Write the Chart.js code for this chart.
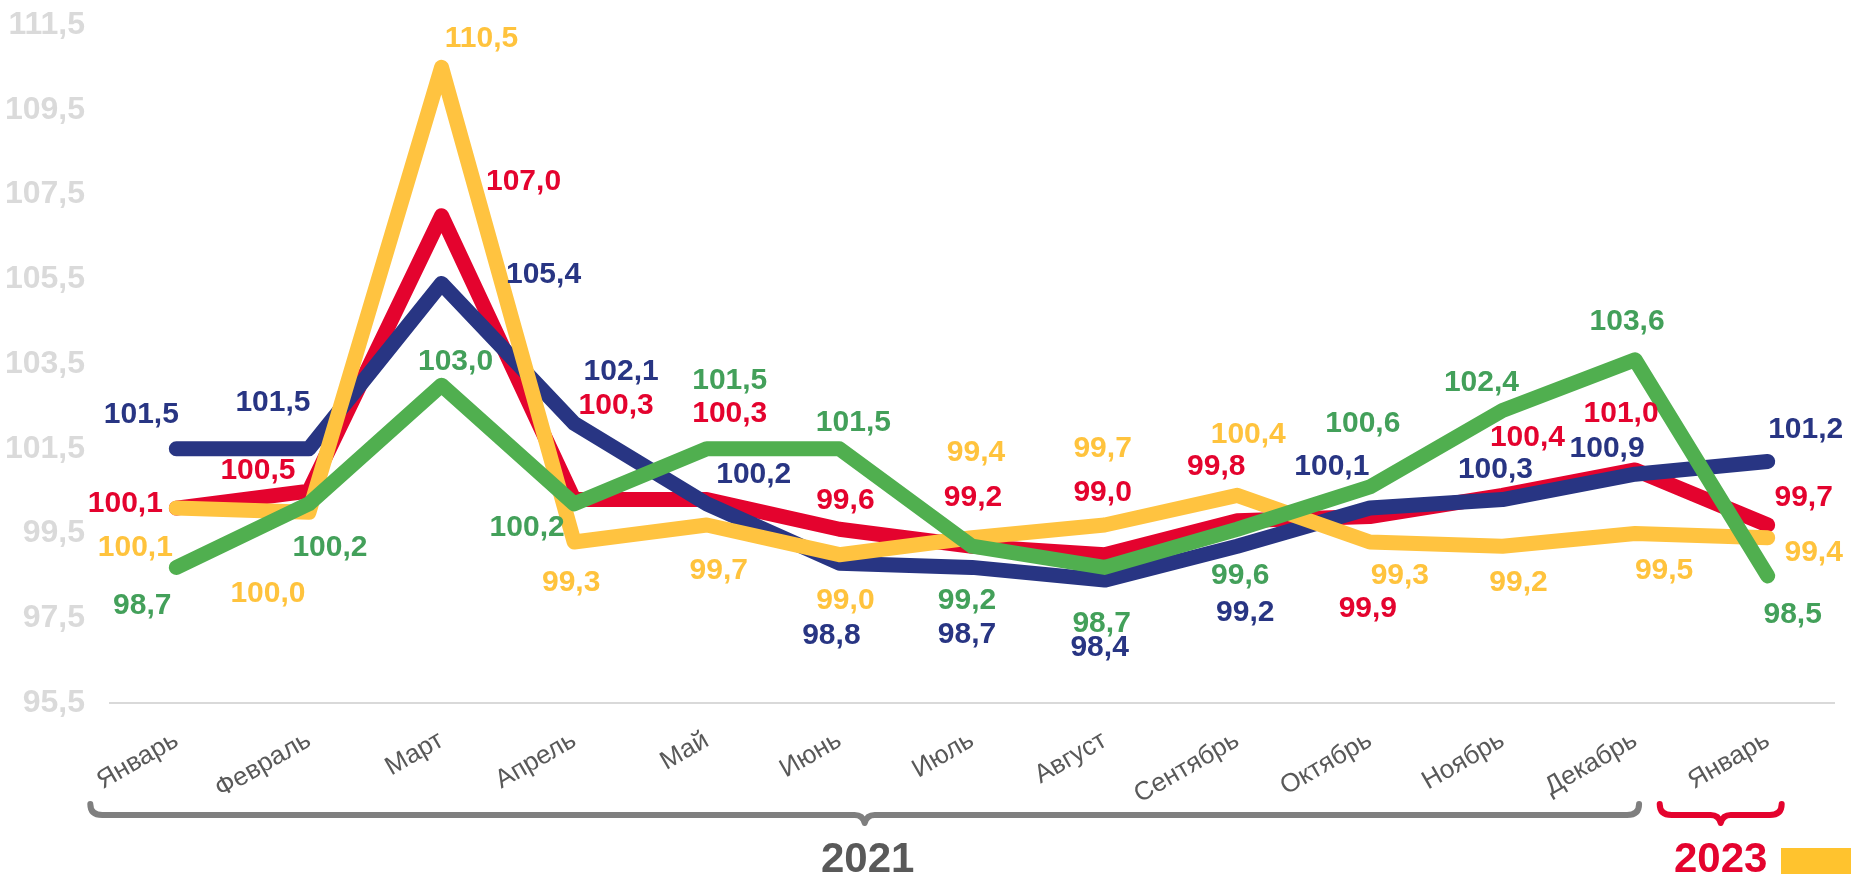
<!DOCTYPE html>
<html>
<head>
<meta charset="utf-8">
<script src="https://cdn.jsdelivr.net/npm/chart.js@4.4.0/dist/chart.umd.min.js"></script>
<style>
  html, body { margin: 0; padding: 0; background: #fff; }
  canvas { display: block; }
</style>
</head>
<body>
<canvas id="indexChart" width="1851" height="874"></canvas>
<script>
// months 2021 + January 2023
const months = ['Январь', 'Февраль', 'Март', 'Апрель', 'Май', 'Июнь', 'Июль', 'Август', 'Сентябрь', 'Октябрь', 'Ноябрь', 'Декабрь', 'Январь'];
const yTicks = [95.5, 97.5, 99.5, 101.5, 103.5, 105.5, 107.5, 109.5, 111.5];

const blueValues = [101.5, 101.5, 105.4, 102.1, 100.2, 98.8, 98.7, 98.4, 99.2, 100.1, 100.3, 100.9, 101.2];
const redValues = [100.1, 100.5, 107.0, 100.3, 100.3, 99.6, 99.2, 99.0, 99.8, 99.9, 100.4, 101.0, 99.7];
const yellowValues = [100.1, 100.0, 110.5, 99.3, 99.7, 99.0, 99.4, 99.7, 100.4, 99.3, 99.2, 99.5, 99.4];
const greenValues = [98.7, 100.2, 103.0, 100.2, 101.5, 101.5, 99.2, 98.7, 99.6, 100.6, 102.4, 103.6, 98.5];

// label offsets from the point, px
const blueLabelPos = [[-35, -35], [-36, -47], [102, -10], [47, -53], [47, -30], [-8, 72], [-5, 66], [-5, 67], [8, 66], [-38, -42], [-7, -31], [-28, -26], [38, -33]];
const redLabelPos = [[-51, -5], [-51, -21], [82, -35], [42, -95], [23, -87], [6, -30], [1, -49], [-2, -63], [-21, -55], [-2, 91], [25, -59], [-14, -57], [36, -28]];
const yellowLabelPos = [[-41, 39], [-41, 80], [40, -30], [-3, 40], [12, 45], [6, 45], [4, -86], [-2, -77], [11, -62], [30, 33], [16, 36], [29, 36], [46, 14]];
const greenLabelPos = [[-34, 37], [21, 43], [14, -24], [-47, 23], [23, -69], [14, -27], [-5, 54], [-3, 55], [3, 45], [-7, -64], [-21, -29], [-8, -39], [25, 38]];

const fmt = v => v.toFixed(1).replace('.', ',');

const pointLabels = {
    id: 'pointLabels',
    afterDatasetsDraw(chart) {
        const ctx = chart.ctx;
        ctx.save();
        ctx.font = 'bold 30px "Liberation Sans", Arial, sans-serif';
        ctx.textAlign = 'center';
        ctx.textBaseline = 'middle';
        chart.data.datasets.forEach((ds, d) => {
            const meta = chart.getDatasetMeta(d);
            ctx.fillStyle = ds.labelColor;
            meta.data.forEach((pt, i) => {
                const off = ds.labelPos[i];
                ctx.fillText(fmt(ds.data[i]), pt.x + off[0], pt.y + off[1] + 1);
            });
        });
        ctx.restore();
    }
};

function drawBrace(ctx, left, right, y, color) {
    const mid = (left + right) / 2;
    ctx.strokeStyle = color;
    ctx.lineWidth = 6;
    ctx.lineCap = 'round';
    ctx.lineJoin = 'round';
    ctx.beginPath();
    ctx.moveTo(left, y - 11);
    ctx.quadraticCurveTo(left, y, left + 12, y);
    ctx.lineTo(mid - 10, y);
    ctx.quadraticCurveTo(mid - 2, y, mid, y + 8);
    ctx.quadraticCurveTo(mid + 2, y, mid + 10, y);
    ctx.lineTo(right - 12, y);
    ctx.quadraticCurveTo(right, y, right, y - 11);
    ctx.stroke();
}

const yearBraces = {
    id: 'yearBraces',
    afterDraw(chart) {
        const ctx = chart.ctx;
        const x = chart.scales.x;
        ctx.save();
        const g1 = x.getPixelForValue(0) - 86;
        const g2 = x.getPixelForValue(11) + 4;
        drawBrace(ctx, g1, g2, 815, '#7f7f7f');
        const r1 = x.getPixelForValue(12) - 108;
        const r2 = x.getPixelForValue(12) + 14;
        drawBrace(ctx, r1, r2, 815, '#E4032E');

        ctx.font = 'bold 42px "Liberation Sans", Arial, sans-serif';
        ctx.textAlign = 'center';
        ctx.textBaseline = 'alphabetic';
        ctx.fillStyle = '#595959';
        ctx.fillText('2021', (g1 + g2) / 2 + 3, 872);
        ctx.fillStyle = '#E4032E';
        ctx.fillText('2023', (r1 + r2) / 2, 872);

        // corner tab
        ctx.fillStyle = '#FFC32E';
        ctx.fillRect(1781, 848, 70, 26);
        ctx.restore();
    }
};

const lineStyle = {
    borderWidth: 15,
    pointRadius: 0,
    pointHoverRadius: 0,
    tension: 0,
    borderJoinStyle: 'round',
    borderCapStyle: 'round',
    fill: false,
    clip: false
};

new Chart(document.getElementById('indexChart'), {
    type: 'line',
    data: {
        labels: months,
        datasets: [
            Object.assign({ data: greenValues, borderColor: '#50AF4F', labelColor: '#43A05A', labelPos: greenLabelPos }, lineStyle),
            Object.assign({ data: yellowValues, borderColor: '#FFC340', labelColor: '#FFC33D', labelPos: yellowLabelPos }, lineStyle),
            Object.assign({ data: blueValues, borderColor: '#283583', labelColor: '#283583', labelPos: blueLabelPos }, lineStyle),
            Object.assign({ data: redValues, borderColor: '#E4032E', labelColor: '#E4032E', labelPos: redLabelPos }, lineStyle)
        ]
    },
    options: {
        responsive: false,
        animation: false,
        layout: { padding: { top: 25, right: 17, bottom: 0, left: 0 } },
        plugins: {
            legend: { display: false },
            tooltip: { enabled: false }
        },
        scales: {
            x: {
                offset: true,
                grid: { display: false, drawTicks: false },
                border: { display: true, color: '#D9D9D9', width: 2 },
                ticks: {
                    color: '#595959',
                    font: { family: '"Liberation Sans", Arial, sans-serif', size: 26 },
                    minRotation: 30,
                    maxRotation: 30,
                    autoSkip: false,
                    padding: 22
                },
                afterFit(scale) { scale.height = 171; }
            },
            y: {
                min: 95.5,
                max: 111.5,
                grid: { display: false, drawTicks: false },
                border: { display: false },
                afterBuildTicks(scale) { scale.ticks = yTicks.map(v => ({ value: v })); },
                ticks: {
                    color: '#DADADA',
                    font: { family: '"Liberation Sans Narrow", "Arial Narrow", "Liberation Sans", sans-serif', size: 32, weight: 'bold' },
                    padding: 25,
                    callback: v => fmt(v)
                },
                afterFit(scale) {
                    scale.width = 110;
                    scale.paddingTop = 0;
                    scale.paddingBottom = 0;
                }
            }
        }
    },
    plugins: [pointLabels, yearBraces]
});
</script>
</body>
</html>
